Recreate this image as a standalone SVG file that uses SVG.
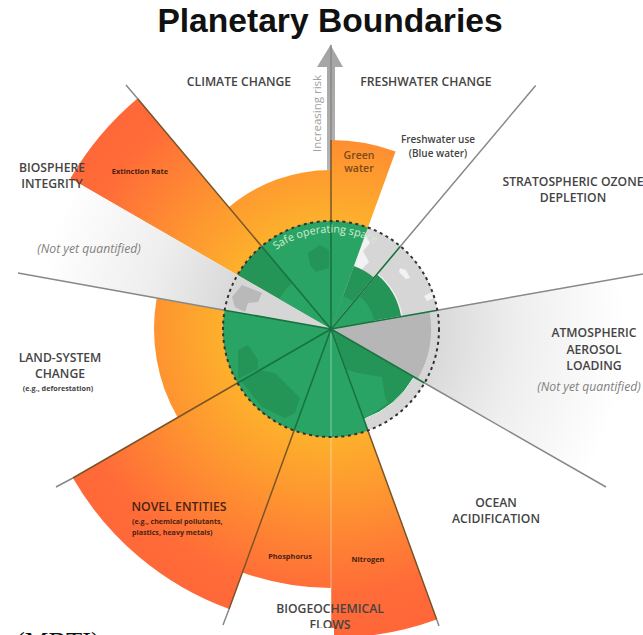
<svg xmlns="http://www.w3.org/2000/svg" width="643" height="635" viewBox="0 0 643 635">
<style>
text{font-family:"Open Sans","Noto Sans",sans-serif}
.t{font-size:12.2px;font-weight:600;fill:#444;text-anchor:middle}
.d{fill:#4a1e10;font-size:7.4px;font-weight:700;text-anchor:middle}
.n{font-size:12.2px;font-style:italic;fill:#808080;text-anchor:middle}
.e{font-size:7.1px;font-weight:700;fill:#4a2312}
.s{font-size:10px;font-weight:600;fill:#444;text-anchor:middle}
.w{font-size:10.5px;font-weight:600;fill:#7a4a1a;text-anchor:middle}
.ray{fill:none;stroke:#888;stroke-width:1.5}
.rg{fill:none;stroke:#17733f;stroke-width:1.6}
.ro{fill:none;stroke:#7a5428;stroke-width:1.5}
.hot{fill:url(#heat)}
.g{fill:#2aa465}
.k{fill:#249457}
.gr{fill:#d6d6d6}
.pale{fill:#f2f2f2}
</style>
<defs>
<radialGradient id="heat" gradientUnits="userSpaceOnUse" cx="331" cy="329" r="310">
<stop offset="0.35" stop-color="#fdb02c"/><stop offset="0.55" stop-color="#fe9630"/><stop offset="0.85" stop-color="#ff6c38"/><stop offset="1" stop-color="#ff6638"/>
</radialGradient>
<radialGradient id="fade" gradientUnits="userSpaceOnUse" cx="331" cy="329" r="310">
<stop offset="0.33" stop-color="#d8d8d8"/><stop offset="0.6" stop-color="#eeeeee"/><stop offset="0.95" stop-color="#ffffff"/>
</radialGradient>
<linearGradient id="shaft" x1="0" y1="45" x2="0" y2="170" gradientUnits="userSpaceOnUse">
<stop offset="0" stop-color="#a4a4a4"/><stop offset="1" stop-color="#b4b4b4"/>
</linearGradient>
<clipPath id="disc"><circle cx="331" cy="329" r="108"/></clipPath>
<path id="safe" d="M 276 250 A 96 96 0 0 1 412 277"/>
</defs>

<rect width="643" height="635" fill="#fff"/>
<text x="330" y="32" font-size="33.6" font-weight="700" text-anchor="middle" style="font-family:'Liberation Sans',Arial,sans-serif" fill="#111">Planetary Boundaries</text>

<g id="risk-axis">
<path d="M327 170V67H317L330.500 45L343 67H335V170Z" fill="url(#shaft)"/>
<text transform="translate(321 152) rotate(-90)" font-size="11.500" fill="#a0a0a0">Increasing risk</text>
</g>

<g id="biosphere-integrity">
<path class="hot" d="M331 329L70.300 178.500A301 301 0 0 1 137.500 98.400Z"/>
<path fill="url(#fade)" d="M331 329L70.300 178.500A301 301 0 0 0 34.600 276.700Z"/>
<path class="k" d="M331 329L237.500 275A108 108 0 0 1 261.600 246.300Z"/>
<path class="g" d="M331 329L279 299A60 60 0 0 1 292.400 283Z"/>
<path class="gr" d="M331 329L237.500 275A108 108 0 0 0 224.600 310.200Z"/>
<path d="M232 297L242 285L262 293L258 302L248 303L245 312L235 307Z" fill="#b9b9b9"/>
<text class="t" x="52" y="172">BIOSPHERE</text>
<text class="t" x="52" y="188">INTEGRITY</text>
<text class="d" x="140" y="174">Extinction Rate</text>
<text class="n" x="89" y="253">(Not yet quantified)</text>
</g>

<g id="climate-change">
<path class="hot" d="M331 329L228.800 207.200A159 159 0 0 1 331 170Z"/>
<path class="g" d="M331 329L261.600 246.300A108 108 0 0 1 331 221Z"/>
<path class="k" d="M308 253L320 245L329 250L329 268L316 272L310 265Z"/>
<text class="t" x="239" y="86">CLIMATE CHANGE</text>
</g>

<g id="freshwater-change">
<path class="hot" d="M331 329V140A189 189 0 0 1 395.600 151.400Z"/>
<path class="gr" d="M331 329L367.900 227.500A108 108 0 0 1 400.400 246.300Z"/>
<path class="pale" d="M359 240L366 236L370 243L363 251L369 262L361 270L352 267Z"/>
<path class="g" d="M331 329V221A108 108 0 0 1 367.900 227.500Z"/>
<path class="k" d="M331 329L353.900 266A67 67 0 0 1 374.100 277.700Z"/>
<path class="g" d="M331 329L343 296A35 35 0 0 1 353.500 302.200Z"/>
<text class="t" x="426" y="86">FRESHWATER CHANGE</text>
<text class="w" x="359" y="159">Green</text>
<text class="w" x="359" y="172">water</text>
<text class="s" x="438" y="143">Freshwater use</text>
<text class="s" x="438" y="157">(Blue water)</text>
</g>

<g id="stratospheric-ozone-depletion">
<path class="gr" d="M331 329L400.400 246.300A108 108 0 0 1 437.400 310.200Z"/>
<path class="pale" d="M400 268L406 270L410 278L406 279L399 272ZM424 296L432 292L434 298L427 301Z"/>
<path d="M331 329L377.300 273.800A72 72 0 0 1 401.900 316.500Z" class="k" stroke="#efefef" stroke-width="1.500"/>
<path class="g" d="M331 329L359 295.600A44 44 0 0 1 374.300 321.400Z"/>
<text class="t" x="573" y="186">STRATOSPHERIC OZONE</text>
<text class="t" x="573" y="202">DEPLETION</text>
</g>

<g id="atmospheric-aerosol-loading">
<path fill="url(#fade)" d="M331 329L638 274.900A312 312 0 0 1 601.200 485Z"/>
<path class="gr" d="M331 329L437.400 310.200A108 108 0 0 1 424.500 383Z"/>
<path d="M331 329L429.500 311.600A100 100 0 0 1 417.600 379Z" fill="#b6b6b6"/>
<text class="t" x="594" y="337">ATMOSPHERIC</text>
<text class="t" x="594" y="354">AEROSOL</text>
<text class="t" x="594" y="370">LOADING</text>
<text class="n" x="589" y="391">(Not yet quantified)</text>
</g>

<g id="ocean-acidification">
<path class="gr" d="M331 329L424.500 383A108 108 0 0 1 367.900 430.500Z"/>
<path class="k" d="M331 329L414.100 377A96 96 0 0 1 363.800 419.200Z" stroke="#eaf5ee" stroke-width="1"/>
<path class="g" d="M335 337L338 367L358 373L382 377L385 397L388 403L363.800 419.200Z"/>
<text class="t" x="496" y="507">OCEAN</text>
<text class="t" x="496" y="523">ACIDIFICATION</text>
</g>

<g id="biogeochemical-flows">
<path class="hot" d="M331 329L242.400 572.400A259 259 0 0 0 331 588Z"/>
<path class="hot" d="M331 329L436.700 619.400A309 309 0 0 1 331 638Z"/>
<path class="g" d="M331 329L294.100 430.500A108 108 0 0 0 367.900 430.500Z"/>
<line x1="331" y1="329" x2="331" y2="625" stroke="#fff" stroke-opacity=".45" stroke-width="1"/>
<text class="d" x="290" y="559">Phosphorus</text>
<text class="d" x="368" y="562">Nitrogen</text>
<text class="t" x="330" y="613">BIOGEOCHEMICAL</text>
<text class="t" x="330" y="629">FLOWS</text>
</g>

<g id="novel-entities">
<path class="hot" d="M331 329L72.900 478A298 298 0 0 0 229.100 609Z"/>
<path class="g" d="M331 329L237.500 383A108 108 0 0 0 294.100 430.500Z"/>
<path class="k" clip-path="url(#disc)" d="M240 380L258 370L275 373L300 398L295 413L285 418L262 407Z"/>
<text x="179" y="511" font-size="12.300" font-weight="600" fill="#4a2312" text-anchor="middle">NOVEL ENTITIES</text>
<text class="e" x="132" y="524">(e.g., chemical pollutants,</text>
<text class="e" x="132" y="535">plastics, heavy metals)</text>
</g>

<g id="land-system-change">
<path class="hot" d="M331 329L177.700 417.500A177 177 0 0 1 156.700 298.300Z"/>
<path class="g" d="M331 329L237.500 383A108 108 0 0 1 224.600 310.200Z"/>
<path class="k" d="M238 379L238 350L248 345L258 360L258 369Z"/>
<text class="t" x="60" y="362">LAND-SYSTEM</text>
<text class="t" x="60" y="378">CHANGE</text>
<text x="58" y="391" font-size="7.200" font-weight="700" fill="#444" text-anchor="middle">(e.g., deforestation)</text>
</g>

<g id="connectors">
<path class="ray" d="M331 140V45"/>
<path class="ray" d="M400.400 246.300L535.700 85.500M643 274L437.400 310.200M606 487L424.500 383M436.700 619.400L439 626M229.100 609L223 625M72.900 478L56 487M137.500 98.400L126 85M224.600 310.200L18 273"/>
<path class="rg" d="M331 221V329M261.600 246.300L331 329L400.400 246.300M224.600 310.200L331 329L437.400 310.200M237.500 383L331 329L424.500 383M294.100 430.500L331 329L367.900 430.500"/>
<path class="ro" d="M331 221V140M261.600 246.300L137.500 98.400M237.500 383L72.900 478M294.100 430.500L229.100 609M367.900 430.500L436.700 619.400"/>
</g>

<circle cx="331" cy="329" r="108" fill="none" stroke="#333" stroke-width="2" stroke-dasharray="3 3.500"/>
<text font-size="10.800" fill="#d2ecd0"><textPath href="#safe">Safe operating space</textPath></text>

<g id="page-fragment">
<rect x="0" y="628" width="334" height="7" fill="#fff"/>
<text x="16" y="651" font-size="26.500" style="font-family:'Liberation Serif','Times New Roman',serif" fill="#111">(MBTI)</text>
</g>
</svg>
